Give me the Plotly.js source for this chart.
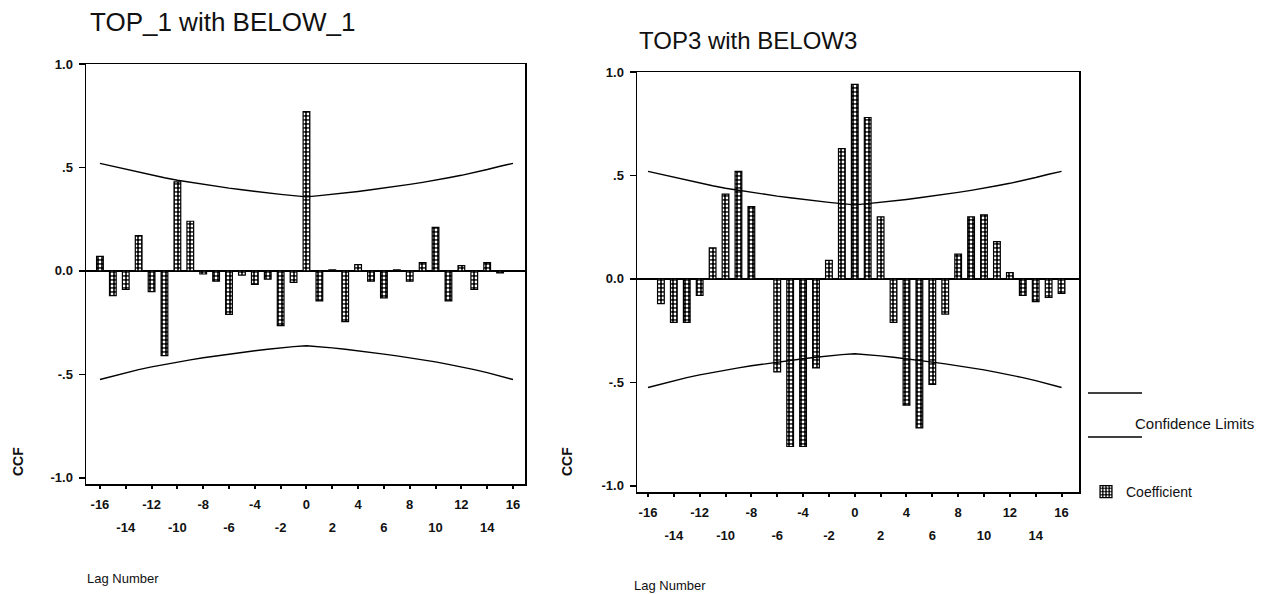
<!DOCTYPE html>
<html><head><meta charset="utf-8">
<script src="https://cdn.plot.ly/plotly-3.0.1.min.js"></script>
<style>html,body{margin:0;padding:0;background:#fff;} #chart{width:1281px;height:594px;}</style>
</head><body><div id="chart"></div>
<script>
// ---- data ----
const lags = [-16,-15,-14,-13,-12,-11,-10,-9,-8,-7,-6,-5,-4,-3,-2,-1,0,1,2,3,4,5,6,7,8,9,10,11,12,13,14,15,16];
const ccfTop1 = [0.07,-0.12,-0.09,0.17,-0.10,-0.41,0.43,0.24,-0.015,-0.05,-0.21,-0.02,-0.065,-0.04,-0.265,-0.055,0.77,-0.145,0.005,-0.245,0.03,-0.05,-0.13,0.005,-0.05,0.04,0.21,-0.145,0.025,-0.09,0.04,-0.01,0];
const ccfTop3 = [0,-0.12,-0.21,-0.21,-0.08,0.15,0.41,0.52,0.35,0,-0.45,-0.81,-0.81,-0.43,0.09,0.63,0.94,0.78,0.30,-0.21,-0.61,-0.72,-0.51,-0.17,0.12,0.30,0.31,0.18,0.03,-0.08,-0.11,-0.09,-0.07];
const confUpper = [0.52,0.506,0.49,0.475,0.462,0.45,0.438,0.428,0.418,0.409,0.40,0.392,0.384,0.377,0.37,0.364,0.358,0.364,0.37,0.377,0.384,0.392,0.40,0.409,0.418,0.428,0.438,0.45,0.462,0.475,0.49,0.506,0.52];
const confLower = [-0.525,-0.508,-0.492,-0.477,-0.464,-0.452,-0.44,-0.43,-0.42,-0.411,-0.402,-0.394,-0.386,-0.379,-0.372,-0.366,-0.362,-0.366,-0.372,-0.379,-0.386,-0.394,-0.402,-0.411,-0.42,-0.43,-0.44,-0.452,-0.464,-0.477,-0.492,-0.508,-0.525];
const xTicksAll = [-16,-14,-12,-10,-8,-6,-4,-2,0,2,4,6,8,10,12,14,16];
const xTickTextAll = ['-16','','-12','','-8','','-4','','0','','4','','8','','12','','16'];
const xTicksLow = [-14,-10,-6,-2,2,6,10,14];
const xTickTextLow = ['-14','-10','-6','-2','2','6','10','14'];
const yTickVals = [-1,-0.5,0,0.5,1];
const yTickText = ['-1.0','-.5','0.0','.5','1.0'];

const FONT = '"Liberation Sans", Arial, sans-serif';
const W = 1281, H = 594;
const px = v => v / W, py = v => 1 - v / H;

const pattern = {shape:'.', bgcolor:'#000', fgcolor:'#fff', size:4, solidity:0.38, fillmode:'replace'};
function bars(y, xa, ya, show){
  return {type:'bar', x:lags, y:y, xaxis:xa, yaxis:ya, width:0.52, name:'Coefficient',
    showlegend:show, legendgroup:'c',
    marker:{color:'#000', line:{color:'#000', width:1.2}, pattern:pattern}, hoverinfo:'x+y'};
}
function conf(y, xa, ya){
  return {type:'scatter', mode:'lines', x:lags, y:y, xaxis:xa, yaxis:ya, showlegend:false,
    line:{color:'#000', width:1.4}, name:'Confidence Limits'};
}
const data = [
  bars(ccfTop1,'x','y',true), conf(confUpper,'x3','y'), conf(confLower,'x3','y'),
  bars(ccfTop3,'x2','y2',false), conf(confUpper,'x4','y2'), conf(confLower,'x4','y2')
];

const tickFont = {family:FONT, size:13, color:'#111', weight:'bold'};
function xMain(dom, rng, anchor){
  return {domain:dom, range:rng, anchor:anchor, tickvals:xTicksAll, ticktext:xTickTextAll,
    ticks:'outside', ticklen:3, tickwidth:2, tickcolor:'#000', showline:true, linecolor:'#000',
    linewidth:1.5, mirror:true, zeroline:false, showgrid:false, tickfont:tickFont, ticklabelstandoff:5, fixedrange:true};
}
function xLow(over, rng, anchor){
  return {overlaying:over, range:rng, anchor:anchor, side:'bottom', tickvals:xTicksLow, ticktext:xTickTextLow,
    ticks:'', showline:false, zeroline:false, showgrid:false, tickfont:tickFont, ticklabelstandoff:34, fixedrange:true};
}
function yAx(dom, anchor){
  return {domain:dom, range:[-1.03,1.0], anchor:anchor, tickvals:yTickVals, ticktext:yTickText,
    ticks:'outside', ticklen:6, tickwidth:1.5, tickcolor:'#000', showline:true, linecolor:'#000', linewidth:1.5,
    mirror:true, zeroline:true, zerolinecolor:'#000', zerolinewidth:1.5, showgrid:false, tickfont:tickFont,
    ticklabelstandoff:3, fixedrange:true};
}
const r1 = [-17.08,16.93], r2 = [-16.85,17.35];
const layout = {
  width:W, height:H, margin:{l:0,r:0,t:0,b:0}, paper_bgcolor:'#fff', plot_bgcolor:'#fff',
  showlegend:true, bargap:0,
  font:{family:FONT, color:'#111'},
  xaxis: xMain([px(86),px(525)], r1, 'y'),
  yaxis: yAx([py(484),py(64)], 'x'),
  xaxis3: xLow('x', r1, 'y'),
  xaxis2: xMain([px(637),px(1079)], r2, 'y2'),
  yaxis2: yAx([py(492),py(72)], 'x2'),
  xaxis4: xLow('x2', r2, 'y2'),
  legend:{x:px(1086), y:py(492), xanchor:'left', yanchor:'middle', bgcolor:'rgba(0,0,0,0)',
    font:{family:FONT, size:14, color:'#111'}, itemwidth:30},
  shapes:[
    {type:'line', xref:'paper', yref:'paper', x0:px(1088), x1:px(1142), y0:py(393), y1:py(393), line:{color:'#000', width:1.4}},
    {type:'line', xref:'paper', yref:'paper', x0:px(1088), x1:px(1142), y0:py(437), y1:py(437), line:{color:'#000', width:1.4}}
  ],
  annotations:[
    {text:'TOP_1 with BELOW_1', xref:'paper', yref:'paper', x:px(88), y:py(22), xanchor:'left', yanchor:'middle', showarrow:false, font:{family:FONT, size:26, color:'#111'}},
    {text:'TOP3 with BELOW3', xref:'paper', yref:'paper', x:px(637), y:py(40), xanchor:'left', yanchor:'middle', showarrow:false, font:{family:FONT, size:24, color:'#111'}},
    {text:'CCF', xref:'paper', yref:'paper', x:px(18), y:py(462), textangle:-90, xanchor:'center', yanchor:'middle', showarrow:false, font:{family:FONT, size:14, color:'#111', weight:'bold'}},
    {text:'CCF', xref:'paper', yref:'paper', x:px(567), y:py(462), textangle:-90, xanchor:'center', yanchor:'middle', showarrow:false, font:{family:FONT, size:14, color:'#111', weight:'bold'}},
    {text:'Lag Number', xref:'paper', yref:'paper', x:px(85), y:py(578), xanchor:'left', yanchor:'middle', showarrow:false, font:{family:FONT, size:13, color:'#111'}},
    {text:'Lag Number', xref:'paper', yref:'paper', x:px(632), y:py(585), xanchor:'left', yanchor:'middle', showarrow:false, font:{family:FONT, size:13, color:'#111'}},
    {text:'Confidence Limits', xref:'paper', yref:'paper', x:px(1133), y:py(423), xanchor:'left', yanchor:'middle', showarrow:false, font:{family:FONT, size:15, color:'#111'}}
  ]
};
Plotly.newPlot('chart', data, layout, {displayModeBar:false, staticPlot:true});
</script></body></html>
